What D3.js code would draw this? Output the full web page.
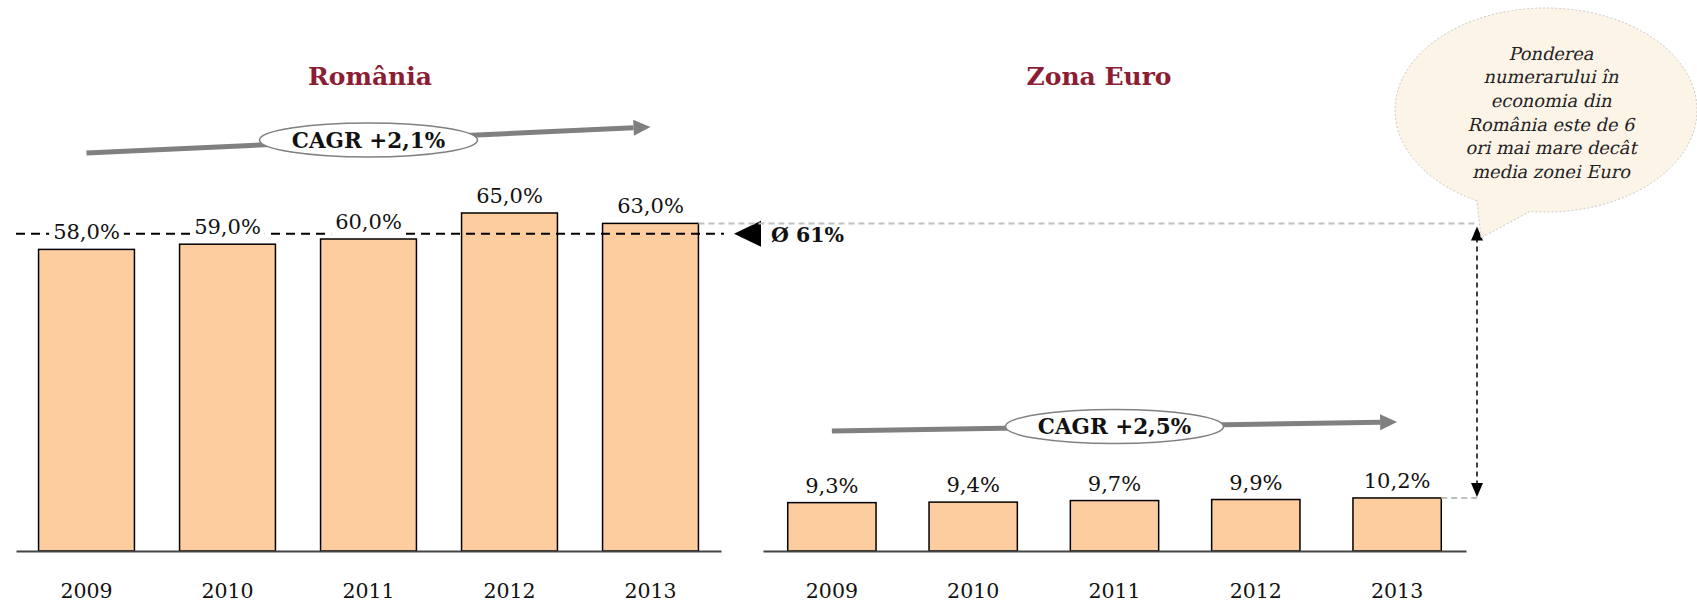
<!DOCTYPE html>
<html lang="en">
<head>
<meta charset="UTF-8">
<title>Ponderea numerarului</title>
<script src="https://cdn.jsdelivr.net/npm/d3@7"></script>
<style>
  body { margin: 0; background: #fff; }
  text { font-family: "DejaVu Serif", serif; fill: #111; }
  .axis .domain { stroke: #444; stroke-width: 2; }
  .axis text { font-size: 20.5px; font-family: "DejaVu Serif", serif; fill: #111; }
</style>
</head>
<body>
<svg id="chart" width="1697" height="602"></svg>
<script>
    // data
    const years = ['2009', '2010', '2011', '2012', '2013'];
    const romania = [58.0, 59.0, 60.0, 65.0, 63.0];
    const euro = [9.3, 9.4, 9.7, 9.9, 10.2];
    const romaniaAvg = 61;
    const titles = ['România', 'Zona Euro'];
    const cagr = ['CAGR +2,1%', 'CAGR +2,5%'];
    const avgLabel = 'Ø 61%';
    const note = ['Ponderea', 'numerarului în', 'economia din', 'România este de 6', 'ori mai mare decât', 'media zonei Euro'];

    let svg = d3.select('svg#chart');
    const fmt = v => d3.format('.1f')(v).replace('.', ',') + '%';
    const grey = '#808080';

    // shared value scale for both panels
    let yScale = d3.scaleLinear().domain([0, 100]).range([551, 31]);

    let panels = [
        {title: titles[0], data: romania, range: [16, 721], pi: 0.32, po: 0.16, tx: 370, cagr: cagr[0], arrowY: [153, 127], box: true},
        {title: titles[1], data: euro, range: [763, 1466], pi: 0.375, po: 0.175, tx: 1099, cagr: cagr[1], arrowY: [431, 422], box: false}
    ];

    panels.forEach(function (p) {
        p.x = d3.scaleBand().domain(years).range(p.range).paddingInner(p.pi).paddingOuter(p.po);
    });

    // gray arrow with an arrow head, ellipse label in the middle
    function cagrArrow(p) {
        let x0 = p.x(years[0]) + p.x.bandwidth() / 2;
        let x1 = p.x(years[4]) + p.x.bandwidth() / 2;
        let y0 = p.arrowY[0], y1 = p.arrowY[1];
        let ang = Math.atan2(y1 - y0, x1 - x0);
        let len = 17, hw = 8;
        let bx = x1 - len * Math.cos(ang), by = y1 - len * Math.sin(ang);
        svg.append('line')
            .attr('x1', x0).attr('y1', y0).attr('x2', bx).attr('y2', by)
            .attr('stroke', grey).attr('stroke-width', 5);
        svg.append('polygon')
            .attr('points', [[x1, y1],
                [bx + hw * Math.sin(ang), by - hw * Math.cos(ang)],
                [bx - hw * Math.sin(ang), by + hw * Math.cos(ang)]].map(d => d.join(',')).join(' '))
            .attr('fill', grey);
        let cx = (x0 + x1) / 2, cy = (y0 + y1) / 2;
        svg.append('ellipse')
            .attr('cx', cx).attr('cy', cy).attr('rx', 109).attr('ry', 17)
            .attr('fill', '#fff').attr('stroke', grey).attr('stroke-width', 1.5);
        svg.append('text')
            .attr('x', cx).attr('y', cy + 7.5)
            .attr('text-anchor', 'middle')
            .style('font-size', '21.5px').style('font-weight', 'bold')
            .text(p.cagr);
    }

    panels.forEach(function (p, pi) {
        // title
        svg.append('text')
            .attr('x', p.tx).attr('y', 85)
            .attr('text-anchor', 'middle')
            .style('font-size', '25px').style('font-weight', 'bold')
            .style('fill', '#8b1e34')
            .text(p.title);

        // bars
        svg.append('g').selectAll('rect')
            .data(p.data)
            .enter()
            .append('rect')
            .attr('x', (d, i) => p.x(years[i]))
            .attr('y', d => yScale(d))
            .attr('width', p.x.bandwidth())
            .attr('height', d => yScale(0) - yScale(d))
            .attr('fill', '#fecd9f')
            .attr('stroke', '#000')
            .attr('stroke-width', 1.5);

        // axis with the years
        svg.append('g')
            .attr('class', 'axis')
            .attr('transform', 'translate(0,' + yScale(0) + ')')
            .call(d3.axisBottom(p.x).tickSize(0).tickSizeOuter(0).tickPadding(32));

        cagrArrow(p);
    });

    // average line for Romania, drawn over the bars
    let yAvg = yScale(romaniaAvg);
    svg.append('line')
        .attr('x1', 16).attr('x2', 724).attr('y1', yAvg).attr('y2', yAvg)
        .attr('stroke', '#000').attr('stroke-width', 2).attr('stroke-dasharray', '9,6');
    svg.append('polygon')
        .attr('points', [[734, yAvg], [761, yAvg - 13], [761, yAvg + 13]].map(d => d.join(',')).join(' '))
        .attr('fill', '#000');
    svg.append('text')
        .attr('x', 771).attr('y', yAvg + 8)
        .style('font-size', '20.5px').style('font-weight', 'bold')
        .text(avgLabel);

    // value labels (Romania ones sit on white so the average line breaks)
    panels.forEach(function (p) {
        let g = svg.append('g');
        p.data.forEach(function (d, i) {
            let cx = p.x(years[i]) + p.x.bandwidth() / 2;
            let by = yScale(d) - 10;
            let t = g.append('text')
                .attr('x', cx).attr('y', by)
                .attr('text-anchor', 'middle')
                .style('font-size', '21px')
                .text(fmt(d));
            if (p.box) {
                let w = t.node().getComputedTextLength();
                g.insert('rect', 'text')
                    .attr('x', cx - w / 2 - 4).attr('y', by - 18)
                    .attr('width', w + 8).attr('height', 25)
                    .attr('fill', '#fff');
            }
        });
    });

    // gray dashed guides from the 2013 bars to the comparison arrow
    let xv = 1477;
    let ro13 = yScale(romania[4]), eu13 = yScale(euro[4]);
    let right = p => p.x(years[4]) + p.x.bandwidth();
    [[right(panels[0]), ro13], [right(panels[1]), eu13]].forEach(function (d) {
        svg.append('line')
            .attr('x1', d[0]).attr('x2', xv).attr('y1', d[1]).attr('y2', d[1])
            .attr('stroke', '#bfbfbf').attr('stroke-width', 2).attr('stroke-dasharray', '6,4');
    });

    // vertical double arrow
    svg.append('line')
        .attr('x1', xv).attr('x2', xv).attr('y1', ro13 + 14).attr('y2', eu13 - 14)
        .attr('stroke', '#000').attr('stroke-width', 1.5).attr('stroke-dasharray', '5,4');
    svg.append('polygon')
        .attr('points', [[xv, ro13 + 3], [xv - 6, ro13 + 17], [xv + 6, ro13 + 17]].map(d => d.join(',')).join(' '))
        .attr('fill', '#000');
    svg.append('polygon')
        .attr('points', [[xv, eu13 - 1], [xv - 6, eu13 - 15], [xv + 6, eu13 - 15]].map(d => d.join(',')).join(' '))
        .attr('fill', '#000');

    // speech bubble
    let bc = {x: 1546, y: 110, rx: 151, ry: 102};
    let onEll = function (x) {
        let dx = (x - bc.x) / bc.rx;
        return [x, bc.y + bc.ry * Math.sqrt(1 - dx * dx)];
    };
    let a = onEll(1477), b = onEll(1530);
    svg.append('path')
        .attr('d', 'M' + a + ' A' + bc.rx + ' ' + bc.ry + ' 0 1 1 ' + b + ' L1481,238 Z')
        .attr('fill', '#fdf4e8')
        .attr('stroke', '#c8c8c8').attr('stroke-width', 1).attr('stroke-dasharray', '2,2');
    // no italic serif face is available, so slant the upright one
    svg.append('g').selectAll('text')
        .data(note)
        .enter()
        .append('text')
        .attr('transform', (d, i) => 'translate(1551,' + (59.5 + i * 23.7) + ') skewX(-13)')
        .attr('text-anchor', 'middle')
        .style('font-size', '17.8px')
        .style('fill', '#222')
        .text(d => d);
</script>
</body>
</html>
